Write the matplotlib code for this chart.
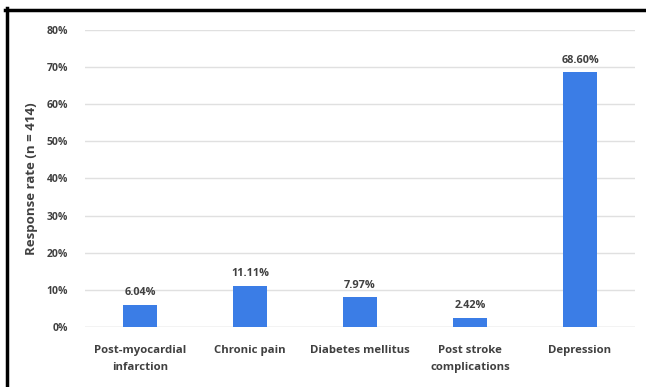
import numpy as np
import matplotlib
matplotlib.use("Agg")
import matplotlib.pyplot as plt
from matplotlib.lines import Line2D
from matplotlib.ticker import FuncFormatter

categories = ["Post-myocardial\ninfarction", "Chronic pain", "Diabetes mellitus",
              "Post stroke\ncomplications", "Depression"]
rates = [6.04, 11.11, 7.97, 2.42, 68.60]
yticks = [0, 10, 20, 30, 40, 50, 60, 70, 80]

plt.rcParams['font.family'] = ['Open Sans', 'DejaVu Sans']

fig = plt.figure(figsize=(6.46, 3.87), dpi=100)
ax = fig.add_axes([85 / 646, 1 - 327 / 387, 550 / 646, 297 / 387])

x = np.arange(len(categories))
ax.bar(x, rates, width=0.31, color='#3b7de6', zorder=3)

for xi, v in zip(x, rates):
    ax.text(xi, v + 1.8, f"{v:.2f}%", ha='center', va='bottom',
            fontsize=7.8, fontweight='bold', color='#404040')

ax.set_xlim(-0.5, len(categories) - 0.5)
ax.set_ylim(0, 80)
ax.set_yticks(yticks)
ax.yaxis.set_major_formatter(FuncFormatter(lambda v, p: f"{v:.0f}%"))
ax.set_xticks(x)
ax.set_xticklabels(categories, fontsize=8.2, fontweight='bold', color='#404040',
                   linespacing=1.7)
for lab in ax.get_yticklabels():
    lab.set_fontsize(7.5)
    lab.set_fontweight('bold')
    lab.set_color('#404040')

ax.tick_params(axis='both', length=0)
ax.tick_params(axis='y', pad=12)
ax.tick_params(axis='x', pad=13)
ax.grid(axis='y', color='#e0e0e0', linewidth=1, zorder=0)
for s in ax.spines.values():
    s.set_visible(False)
ax.axhline(0, color='#e0e0e0', linewidth=1, zorder=1)

ax.set_ylabel("Response rate (n = 414)", fontsize=9.5, fontweight='bold',
              color='#404040', labelpad=6)

# frame edges along the left and top
fig.add_artist(Line2D([6.5 / 646, 6.5 / 646], [0, 1 - 8 / 387],
                      transform=fig.transFigure, color='black', linewidth=2.5))
fig.add_artist(Line2D([5 / 646, 1], [1 - 9.5 / 387, 1 - 9.5 / 387],
                      transform=fig.transFigure, color='black', linewidth=2.5))

fig.savefig("out.png", dpi=100)
